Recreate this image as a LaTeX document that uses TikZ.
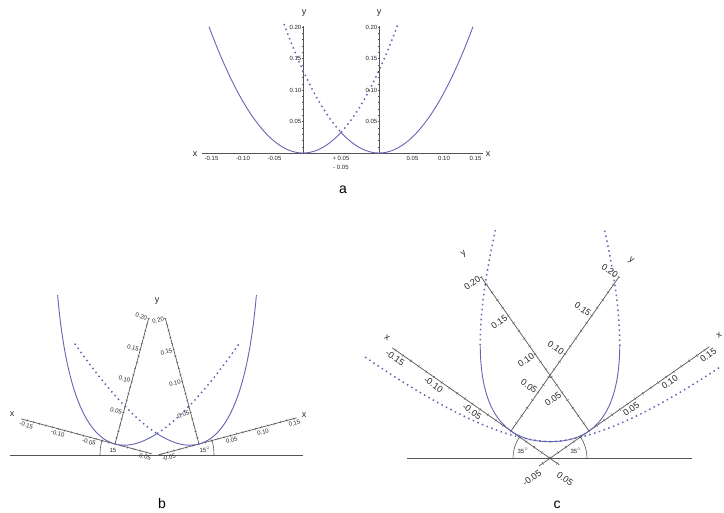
\documentclass[tikz,border=0pt]{standalone}
\usepackage{fontspec}
\setmainfont{Liberation Sans}
\usetikzlibrary{calc}

\definecolor{curveblue}{RGB}{100,100,180}
\definecolor{axisgray}{RGB}{85,85,85}

\begin{document}
\begin{tikzpicture}[x=1pt, y=-1pt,
    axis/.style={axisgray, line width=.7pt},
    tickmark/.style={axisgray, line width=.35pt},
    curve/.style={curveblue, line width=.9pt},
    dotcurve/.style={curveblue, line width=1.5pt, dash pattern=on 1.5pt off 3.5pt},
    lbl/.style={inner sep=1pt, text=black!85, font=\fontsize{6}{6}\selectfont},
    biglbl/.style={inner sep=1pt, text=black!85, font=\fontsize{9}{9}\selectfont},
    axname/.style={inner sep=0pt, text=black!85, font=\fontsize{9}{9}\selectfont},
    panel/.style={inner sep=0pt, font=\fontsize{14}{14}\selectfont}]
\useasboundingbox (0,0) rectangle (724,513);

% ---------- a ----------
\draw[axis] (202,153) -- (483,153);
\node[axname] (xal) at (195,154) {x};
\node[axname] (xar) at (488,154) {x};
\node[axname] (yal) at (304,13) {y};
\node[axname] (yar) at (379,13) {y};
\begin{scope}[shift={(303,153)}, yscale=-1]
  \draw[axis] (0,0) -- (0,127);
  \foreach \i in {1,...,20} \draw[tickmark] (-1.2,\i*6.3) -- (1.2,\i*6.3);
  \foreach \i in {-16,...,6} \draw[tickmark] (\i*6.3,-1.5) -- (\i*6.3,0);
  \foreach \i/\t in {1/0.05,2/0.10,3/0.15,4/0.20}
    \node[lbl, anchor=east] (ayl\i) at (-0.5,\i*31.5) {\t};
  \foreach \i/\t in {1/-0.05,2/-0.10,3/-0.15}
    \node[lbl, anchor=north] (axl\i) at (-\i*31.5+3,-2) {\t};
  \draw[curve] plot[domain=-94:38, samples=60] (\x,{(0.0143*(\x))*(\x)});
  \draw[dotcurve] plot[domain=38:95, samples=30] (\x,{(0.0143*(\x))*(\x)});
\end{scope}
\begin{scope}[shift={(379,153)}, yscale=-1]
  \draw[axis] (0,0) -- (0,127);
  \foreach \i in {1,...,20} \draw[tickmark] (-1.2,\i*6.3) -- (1.2,\i*6.3);
  \foreach \i in {-6,...,16} \draw[tickmark] (\i*6.3,-1.5) -- (\i*6.3,0);
  \foreach \i/\t in {1/0.05,2/0.10,3/0.15,4/0.20}
    \node[lbl, anchor=east] (ayr\i) at (-0.5,\i*31.5) {\t};
  \foreach \i/\t in {1/0.05,2/0.10,3/0.15}
    \node[lbl, anchor=north] (axr\i) at (\i*31.5+2,-2) {\t};
  \draw[curve] plot[domain=-38:94, samples=60] (\x,{(0.0143*(\x))*(\x)});
  \draw[dotcurve] plot[domain=-95:-38, samples=30] (\x,{(0.0143*(\x))*(\x)});
\end{scope}
\node[lbl, align=center, anchor=north, font=\fontsize{6}{9}\selectfont] (amid) at (341,155) {+ 0.05\\- 0.05};
\node[panel] (pa) at (343,190) {a};

% ---------- b ----------
\draw[axis] (10,455) -- (303,455);
\node[axname] (xbl) at (12,414) {x};
\node[axname] (xbr) at (304,415) {x};
\node[axname] (yb) at (157,301) {y};
\begin{scope}[shift={(115,444)}, rotate=-15, yscale=-1]
  \draw[axis] (-97,0) -- (38,0);
  \draw[axis] (0,0) -- (0,130);
  \foreach \i in {1,...,20} \draw[tickmark] (-1.2,\i*6.5) -- (1.2,\i*6.5);
  \foreach \i in {-14,...,5} \draw[tickmark] (\i*6.5,-1.2) -- (\i*6.5,1.2);
  \foreach \i/\t in {1/0.05,2/0.10,3/0.15,4/0.20}
    \node[lbl, rotate=-15, anchor=east] (byl\i) at (-0.5,\i*32.5) {\t};
  \foreach \i/\t in {1/-0.05,2/-0.10,3/-0.15}
    \node[lbl, rotate=-15, anchor=north] (bxl\i) at (-\i*32.5+7,-1.5) {\t};
  \node[lbl, rotate=-15, anchor=north] (bxlp) at (32.5,-1.5) {0.05};
  \draw[curve] plot[domain=-94:37.9, samples=60] (\x,{(0.0146*(\x))*(\x)});
  \draw[dotcurve] plot[domain=37.9:94, samples=30] (\x,{(0.0146*(\x))*(\x)});
\end{scope}
\begin{scope}[shift={(199,444)}, rotate=15, yscale=-1]
  \draw[axis] (-42,0) -- (101,0);
  \draw[axis] (0,0) -- (0,130);
  \foreach \i in {1,...,20} \draw[tickmark] (-1.2,\i*6.5) -- (1.2,\i*6.5);
  \foreach \i in {-6,...,15} \draw[tickmark] (\i*6.5,-1.2) -- (\i*6.5,1.2);
  \foreach \i/\t in {1/0.05,2/0.10,3/0.15,4/0.20}
    \node[lbl, rotate=15, anchor=east] (byr\i) at (-0.5,\i*32.5) {\t};
  \foreach \i/\t in {1/0.05,2/0.10,3/0.15}
    \node[lbl, rotate=15, anchor=north] (bxr\i) at (\i*32.5,-1.5) {\t};
  \node[lbl, rotate=15, anchor=north] (bxrn) at (-32.5,-1.5) {-0.05};
  \draw[curve] plot[domain=-37.9:94, samples=60] (\x,{(0.0146*(\x))*(\x)});
  \draw[dotcurve] plot[domain=-94:-37.9, samples=30] (\x,{(0.0146*(\x))*(\x)});
\end{scope}
\draw[tickmark, line width=.6pt] (100,455) arc[start angle=180, end angle=195, radius=57];
\draw[tickmark, line width=.6pt] (214,455) arc[start angle=0, end angle=-15, radius=57];
\node[lbl] (bal) at (113,450) {15};
\node[lbl] (bar) at (205,450) {15$^\circ$};
\node[panel] (pb) at (162,503) {b};

% ---------- c ----------
\draw[axis] (407,458) -- (692,458);
\begin{scope}[shift={(511,431)}, rotate=-35, yscale=-1]
  \draw[axis] (-145,0) -- (59,0);
  \draw[axis] (0,0) -- (0,188);
  \foreach \i in {1,...,20} \draw[tickmark] (-1.5,\i*9.4) -- (1.5,\i*9.4);
  \foreach \i in {-15,...,6} \draw[tickmark] (\i*9.4,-1.5) -- (\i*9.4,1.5);
  \foreach \i/\t in {1/0.05,2/0.10,3/0.15,4/0.20}
    \node[biglbl, rotate=-35, anchor=east] (cyl\i) at (-1,\i*47) {\t};
  \foreach \i/\t in {1/-0.05,2/-0.10,3/-0.15}
    \node[biglbl, rotate=-35, anchor=north] (cxl\i) at (-\i*47+4,-2) {\t};
  \draw[curve] plot[domain=-74:38, samples=60] (\x,{(0.0095*(\x))*(\x)});
  \draw[dotcurve] plot[domain=-128:-74, samples=30] (\x,{(0.0095*(\x))*(\x)});
  \draw[dotcurve] plot[domain=38:135, samples=40] (\x,{(0.0095*(\x))*(\x)});
\end{scope}
\begin{scope}[shift={(589,431)}, rotate=35, yscale=-1]
  \draw[axis] (-61,0) -- (147,0);
  \draw[axis] (0,0) -- (0,188);
  \foreach \i in {1,...,20} \draw[tickmark] (-1.5,\i*9.4) -- (1.5,\i*9.4);
  \foreach \i in {-6,...,15} \draw[tickmark] (\i*9.4,-1.5) -- (\i*9.4,1.5);
  \foreach \i/\t in {1/0.05,2/0.10,3/0.15,4/0.20}
    \node[biglbl, rotate=35, anchor=east] (cyr\i) at (-1,\i*47) {\t};
  \foreach \i/\t in {1/0.05,2/0.10,3/0.15}
    \node[biglbl, rotate=35, anchor=north] (cxr\i) at (\i*47,-2) {\t};
  \draw[curve] plot[domain=-38:74, samples=60] (\x,{(0.0095*(\x))*(\x)});
  \draw[dotcurve] plot[domain=74:128, samples=30] (\x,{(0.0095*(\x))*(\x)});
  \draw[dotcurve] plot[domain=-141:-38, samples=40] (\x,{(0.0095*(\x))*(\x)});
\end{scope}
\node[biglbl, rotate=-35] (cxlp) at (565,479) {0.05};
\node[biglbl, rotate=35] (cxrn) at (532,478) {-0.05};
\node[axname, rotate=-35] (xcl) at (387,338) {x};
\node[axname, rotate=35] (xcr) at (719,335) {x};
\node[axname, rotate=-35] (ycl) at (631,261) {y};
\node[axname, rotate=35] (ycr) at (464,254) {y};
\draw[tickmark, line width=.6pt] (513,458) arc[start angle=180, end angle=215, radius=37];
\draw[tickmark, line width=.6pt] (587,458) arc[start angle=0, end angle=-35, radius=37];
\node[lbl] (cal) at (523,451) {35$^\circ$};
\node[lbl] (car) at (576,451) {35$^\circ$};
\node[panel] (pc) at (557,505) {c};
\end{tikzpicture}
\end{document}
